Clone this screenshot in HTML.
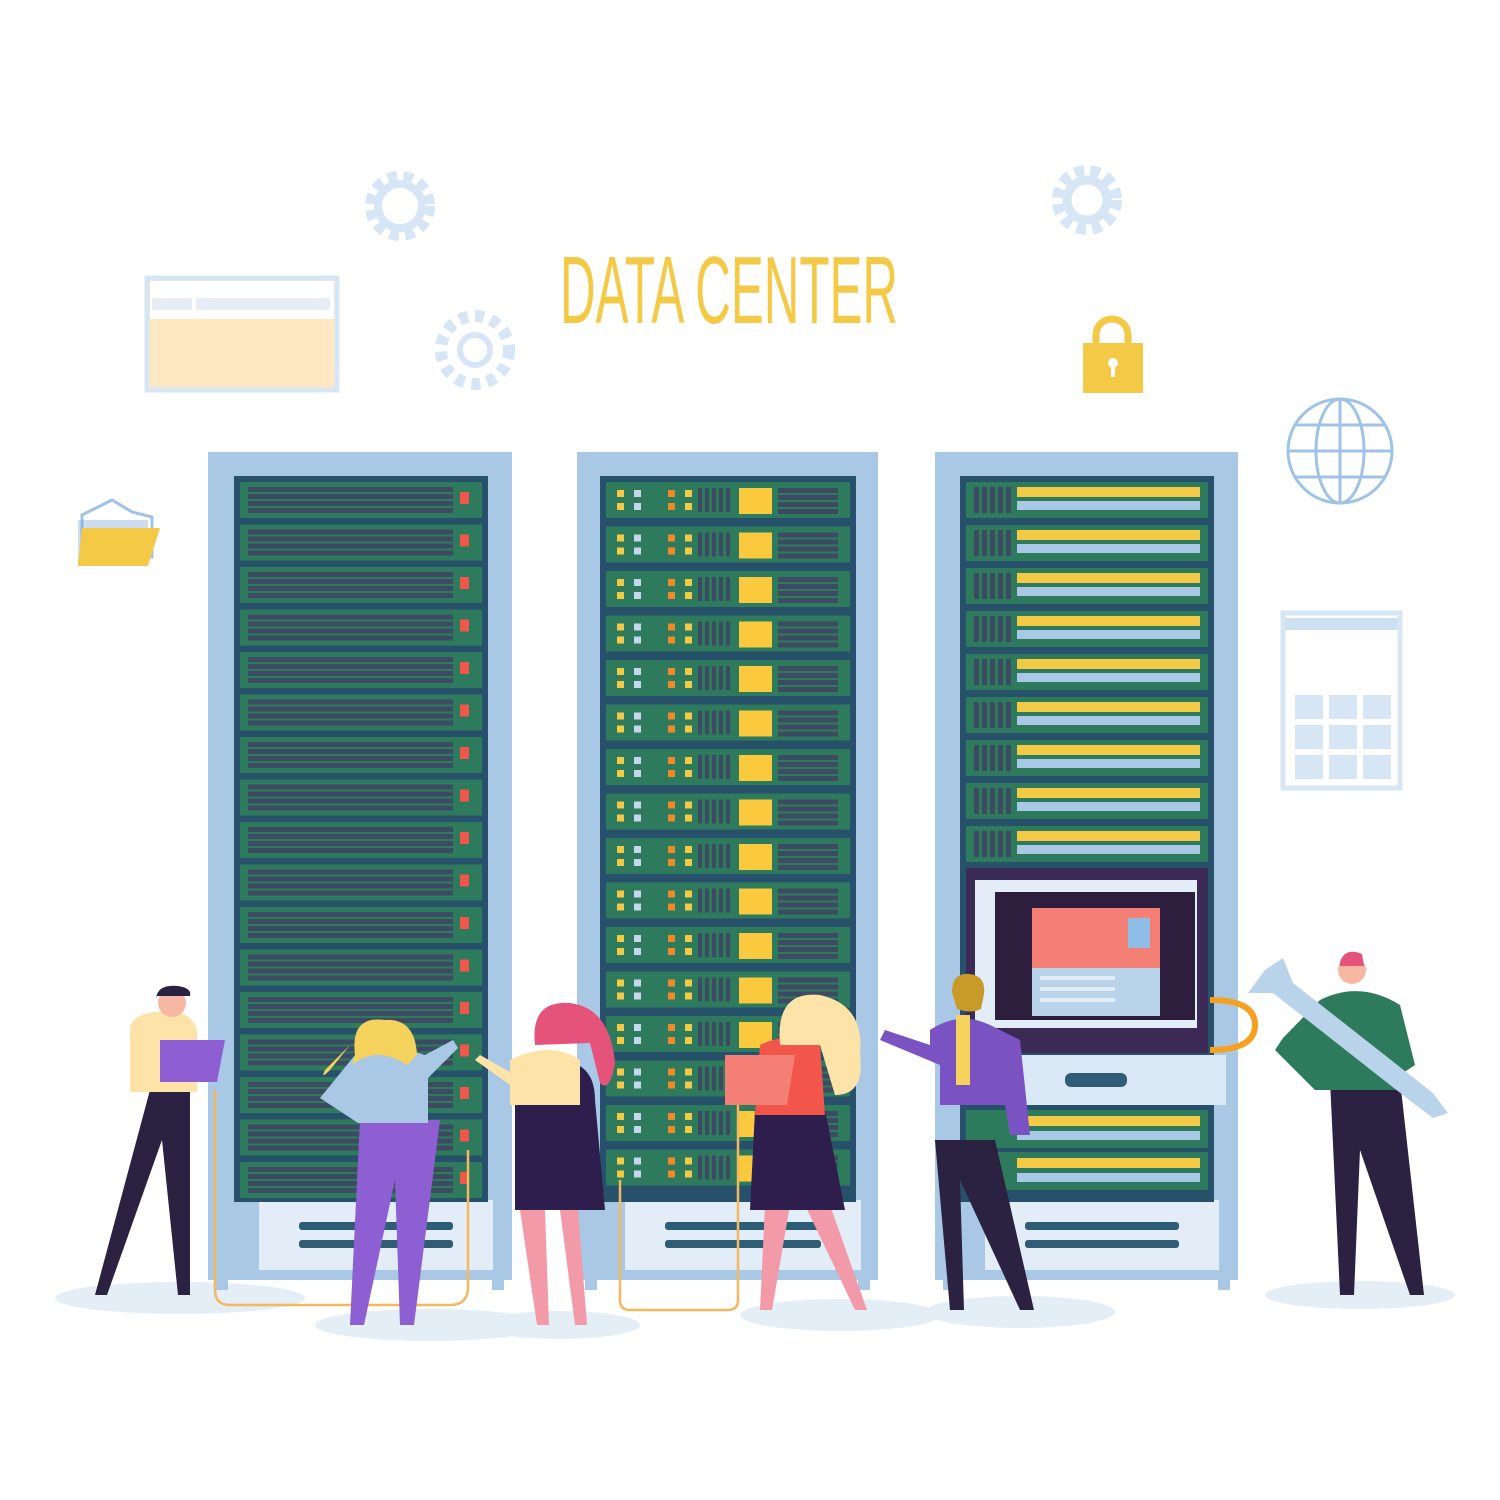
<!DOCTYPE html>
<html><head><meta charset="utf-8"><style>html,body{margin:0;padding:0;background:#fff}svg{display:block}</style></head>
<body>
<svg id="s" width="1500" height="1500" viewBox="0 0 1500 1500" xmlns="http://www.w3.org/2000/svg">
<rect width="1500" height="1500" fill="#fff"/>
<!-- shadows -->
<g fill="#e3eef7">
<ellipse cx="180" cy="1298" rx="125" ry="16"/>
<ellipse cx="430" cy="1325" rx="115" ry="16"/>
<ellipse cx="560" cy="1325" rx="80" ry="14"/>
<ellipse cx="840" cy="1315" rx="100" ry="16"/>
<ellipse cx="1020" cy="1312" rx="95" ry="16"/>
<ellipse cx="1360" cy="1295" rx="95" ry="14"/>
</g>
<!-- title -->
<text x="560" y="323" font-family="Liberation Sans Narrow, Liberation Sans, sans-serif" font-size="96" fill="#f4c946" textLength="338" lengthAdjust="spacingAndGlyphs">DATA CENTER</text>
<!-- gears -->
<g fill="none" stroke="#d6e6f4">
<circle cx="400" cy="206" r="28" stroke-width="14" stroke-dasharray="9 6"/>
<circle cx="400" cy="206" r="22" stroke-width="8"/>
<circle cx="475" cy="350" r="34" stroke-width="12" stroke-dasharray="9 7"/>
<circle cx="475" cy="350" r="15" stroke-width="6"/>
<circle cx="1087" cy="200" r="28" stroke-width="14" stroke-dasharray="9 6"/>
<circle cx="1087" cy="200" r="20" stroke-width="9"/>
</g>
<!-- browser window left -->
<rect x="147" y="278" width="190" height="112" fill="#fde8c3" stroke="#d6e6f4" stroke-width="5"/>
<rect x="150" y="281" width="184" height="38" fill="#fff"/>
<rect x="152" y="298" width="40" height="12" fill="#e8eef5"/><rect x="196" y="298" width="134" height="12" fill="#e8eef5"/>
<!-- lock -->
<path d="M1096 345 v-10 a16 16 0 0 1 32 0 v10" fill="none" stroke="#f4c946" stroke-width="7"/>
<rect x="1083" y="343" width="60" height="50" fill="#f4c946"/>
<circle cx="1113" cy="363" r="5" fill="#fff"/><rect x="1111" y="363" width="4" height="14" fill="#fff"/>
<!-- globe -->
<g fill="none" stroke="#9fc3e6" stroke-width="3">
<circle cx="1340" cy="451" r="52"/>
<ellipse cx="1340" cy="451" rx="24" ry="52"/>
<line x1="1340" y1="399" x2="1340" y2="503"/>
<line x1="1288" y1="451" x2="1392" y2="451"/>
<line x1="1296" y1="425" x2="1384" y2="425"/>
<line x1="1296" y1="477" x2="1384" y2="477"/>
</g>
<!-- folder -->
<path d="M82 515 l30 -15 l20 12 l20 5 v40 h-70z" fill="#fff" stroke="#9fc3e6" stroke-width="3"/>
<rect x="78" y="520" width="70" height="46" fill="#6f9ed6" opacity=".35"/>
<path d="M82 528 h78 l-12 38 h-70z" fill="#f4c946"/>
<!-- right window -->
<rect x="1283" y="613" width="117" height="175" fill="#fff" stroke="#d6e6f4" stroke-width="5"/>
<rect x="1285" y="618" width="113" height="12" fill="#cfe0f0"/>
<g id="cal" fill="#d6e6f4"></g>
<g id="racks"></g>
<g id="people"></g>
</svg>
<script>
const NS="http://www.w3.org/2000/svg";
function el(p,t,a){const e=document.createElementNS(NS,t);for(const k in a)e.setAttribute(k,a[k]);p.appendChild(e);return e;}
const cal=document.getElementById('cal');
for(let r=0;r<3;r++)for(let c=0;c<3;c++)el(cal,'rect',{x:1295+c*34,y:695+r*30,width:28,height:24});
const R=document.getElementById('racks');
function frame(x0,x1,ix0,ix1){
 el(R,'rect',{x:x0,y:452,width:x1-x0,height:828,fill:'#a8c8e6'});
 el(R,'rect',{x:x0+8,y:1268,width:12,height:22,fill:'#a8c8e6'});el(R,'rect',{x:x1-20,y:1268,width:12,height:22,fill:'#a8c8e6'});
 el(R,'rect',{x:ix0+25,y:1200,width:ix1-ix0-20,height:70,fill:'#e2edf7'});
 el(R,'rect',{x:ix0+65,y:1222,width:ix1-ix0-100,height:8,rx:3,fill:'#2f5d76'});
 el(R,'rect',{x:ix0+65,y:1240,width:ix1-ix0-100,height:8,rx:3,fill:'#2f5d76'});
 el(R,'rect',{x:ix0,y:476,width:ix1-ix0,height:726,fill:'#27506a'});
}
// rack1
frame(208,512,234,488);
for(let i=0;i<17;i++){const y=482+i*42.5;
 el(R,'rect',{x:240,y:y,width:242,height:36,fill:'#2e7a5c'});
 for(let j=0;j<4;j++)el(R,'rect',{x:248,y:y+5+j*7,width:205,height:5,fill:'#3d4b62'});
 el(R,'rect',{x:460,y:y+10,width:9,height:12,fill:'#f2564a'});
}
// rack2
frame(577,878,600,856);
for(let i=0;i<16;i++){const y=482+i*44.5;
 el(R,'rect',{x:606,y:y,width:244,height:36,fill:'#2e7a5c'});
 [[617,'#f4c946'],[634,'#c7d6ee'],[668,'#f08a24'],[685,'#f4c946']].forEach(([x,c])=>{el(R,'rect',{x:x,y:y+8,width:7,height:7,fill:c});el(R,'rect',{x:x,y:y+21,width:7,height:7,fill:c});});
 for(let j=0;j<5;j++)el(R,'rect',{x:698+j*7,y:y+6,width:4,height:24,fill:'#3d4b62'});
 el(R,'rect',{x:739,y:y+6,width:33,height:26,fill:'#fbc93e'});
 for(let j=0;j<4;j++)el(R,'rect',{x:778,y:y+6+j*7,width:60,height:5,fill:'#3d4b62'});
}
// rack3
frame(935,1238,960,1214);
for(let i=0;i<9;i++){const y=482+i*43;
 el(R,'rect',{x:966,y:y,width:242,height:36,fill:'#2e7a5c'});
 for(let j=0;j<5;j++)el(R,'rect',{x:974+j*8,y:y+5,width:5,height:26,fill:'#3d4b62'});
 el(R,'rect',{x:1017,y:y+5,width:183,height:10,fill:'#f4c946'});
 el(R,'rect',{x:1017,y:y+19,width:183,height:9,fill:'#a8c8e6'});
}
el(R,'rect',{x:966,y:868,width:242,height:185,fill:'#3a2a55'});
el(R,'rect',{x:975,y:880,width:222,height:148,fill:'#e2edf7'});
el(R,'rect',{x:995,y:892,width:200,height:128,fill:'#2d1e3e'});
el(R,'rect',{x:1032,y:908,width:128,height:60,fill:'#f47f74'});
el(R,'rect',{x:1032,y:968,width:128,height:48,fill:'#b9d3ea'});
el(R,'rect',{x:1128,y:918,width:22,height:30,fill:'#8fbde6'});
for(let j=0;j<3;j++)el(R,'rect',{x:1040,y:976+j*11,width:75,height:4,fill:'#e2edf7'});
el(R,'rect',{x:1010,y:1055,width:216,height:50,fill:'#dbe8f5'});
el(R,'rect',{x:1065,y:1073,width:62,height:14,rx:6,fill:'#2f5d76'});
for(let i=0;i<2;i++){const y=1110+i*42;el(R,'rect',{x:966,y:y,width:242,height:38,fill:'#2e7a5c'});
 el(R,'rect',{x:1017,y:y+6,width:183,height:10,fill:'#f4c946'});el(R,'rect',{x:1017,y:y+21,width:183,height:9,fill:'#a8c8e6'});}
// cables
el(R,'path',{d:'M215 1090 V1290 q0 15 15 15 H450 q18 0 18 -18 V1150',fill:'none',stroke:'#f4b860','stroke-width':2.5});
el(R,'path',{d:'M620 1180 V1300 q0 10 10 10 H728 q10 0 10 -10 V1080',fill:'none',stroke:'#f4b860','stroke-width':2.5});
el(R,'path',{d:'M1210 1000 q45 0 45 25 q0 25 -45 25',fill:'none',stroke:'#f4a020','stroke-width':6});
// people
const P=document.getElementById('people');
function pp(d,f){el(P,'path',{d:d,fill:f});}
// p1 man with laptop
pp('M150 1090 L95 1295 h12 L162 1140 L178 1295 h12 L190 1090z','#2b2140');
pp('M130 1030 q0 -15 25 -18 h20 q20 3 22 20 v60 h-67z','#fde3a7');
el(P,'circle',{cx:172,cy:1003,r:14,fill:'#f6b8a3'});pp('M156 998 q2 -14 22 -12 q14 2 12 10 h-34z','#2b2140');
pp('M160 1040 h65 l-8 42 h-57z','#8d5fd3');
// p2 woman blonde light blue top purple pants
pp('M360 1120 L350 1325 h14 L395 1180 L400 1325 h14 L440 1120z','#8d5fd3');
pp('M355 1055 q35 -12 70 0 l28 -15 l5 8 l-30 30 v45 h-70 l-38 -25 z','#a9c8e6');
pp('M355 1055 q-5 -40 30 -35 q30 -2 32 35 l-10 10 q-30 -20 -55 0z','#f4d25c');
pp('M330 1070 q-10 10 -5 0 l25 -25','#f4d25c');
// p3 woman pink hair dark skirt
pp('M520 1210 L537 1325 h12 L545 1210z M560 1210 L575 1325 h12 L578 1210z','#f29aa8');
pp('M515 1100 q0 -40 40 -40 q40 0 40 40 l10 110 h-90z','#2d1e4e');
pp('M510 1060 q40 -20 70 0 v45 h-70z','#fde3a7');
pp('M535 1045 q-5 -45 35 -42 q40 5 45 60 q-5 30 -15 20 l-10 -40z','#e5527a');
pp('M480 1055 l35 20 l-5 10 l-35 -25z','#fde3a7');
// p4 woman red top yellow hair
pp('M765 1205 L760 1310 h12 L790 1205z M805 1205 L855 1310 h12 L830 1205z','#f29aa8');
pp('M755 1110 h70 l20 100 h-95z','#2d1e4e');
pp('M760 1045 q30 -15 60 0 l5 70 h-70z','#f2564a');
pp('M780 1045 q-5 -55 40 -50 q45 10 40 60 q5 40 -25 40 l-15 -50z','#fde3a7');
pp('M725 1055 h70 l-8 50 h-62z','#f47f74');
// p5 man purple suit
pp('M935 1140 L950 1310 h14 L960 1180 L1020 1310 h14 L995 1140z','#2b2140');
pp('M930 1030 q30 -20 60 -5 l30 15 l10 95 h-20 l-5 -30 h-65 v-40 l-60 -25 l5 -10 l45 15z','#7a52c2');
pp('M956 1015 h14 v70 h-14z','#f4d25c');
el(P,'circle',{cx:968,cy:995,r:15,fill:'#f6b8a3'});pp('M952 992 q0 -20 18 -18 q16 2 14 20 l-3 15 q-10 5 -24 0z','#c79a2a');
// p6 man with wrench
pp('M1330 1080 L1340 1295 h14 L1360 1150 L1410 1295 h14 L1400 1080z','#2b2140');
pp('M1320 1000 q40 -20 80 5 l15 60 l-15 10 v15 h-85 l-40 -40 l8 -12z','#2e7a5c');
el(P,'circle',{cx:1352,cy:970,r:14,fill:'#f6b8a3'});pp('M1340 962 q5 -15 22 -8 l2 12 h-24z','#e5527a');
pp('M1265 970 l18 -12 l10 25 l140 110 l15 20 l-15 5 l-20 -15 l-140 -110 l-25 0z','#b9d3ea');
</script>
</body></html>
